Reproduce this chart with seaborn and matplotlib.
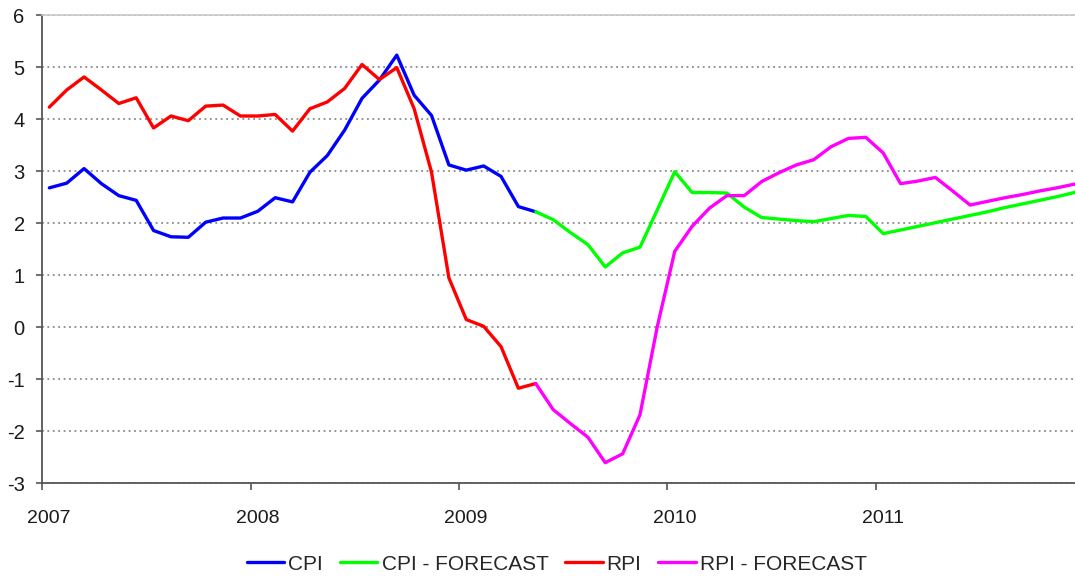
import numpy as np
import pandas as pd
import matplotlib
matplotlib.use("Agg")
import matplotlib.pyplot as plt
import matplotlib.transforms as mtransforms
import seaborn as sns

# ---- data (monthly, Jan 2007 .. Dec 2011) ----
months = list(range(60))
cpi = [2.68, 2.77, 3.05, 2.76, 2.53, 2.44, 1.86, 1.74, 1.73, 2.02, 2.10, 2.10,
       2.23, 2.49, 2.41, 2.98, 3.30, 3.79, 4.40, 4.75, 5.23, 4.46, 4.07, 3.12,
       3.02, 3.10, 2.90, 2.32, 2.22]
cpi_forecast = [2.22, 2.07, 1.82, 1.59, 1.16, 1.43, 1.54, 2.26, 2.99, 2.59, 2.59, 2.58,
                2.31, 2.11, 2.08, 2.05, 2.03, 2.09, 2.15, 2.13, 1.80, 1.87, 1.94, 2.01,
                2.08, 2.15, 2.22, 2.30, 2.37, 2.44, 2.51, 2.59]
rpi = [4.23, 4.56, 4.81, 4.56, 4.30, 4.41, 3.83, 4.06, 3.97, 4.25, 4.27, 4.06,
       4.06, 4.09, 3.77, 4.20, 4.33, 4.59, 5.05, 4.76, 4.99, 4.20, 2.98, 0.95,
       0.15, 0.02, -0.37, -1.17, -1.08]
rpi_forecast = [-1.08, -1.58, -1.85, -2.11, -2.60, -2.43, -1.68, 0.02, 1.46, 1.94, 2.29, 2.53,
                2.53, 2.80, 2.97, 3.12, 3.22, 3.47, 3.63, 3.65, 3.35, 2.76, 2.81, 2.88,
                2.62, 2.35, 2.42, 2.49, 2.55, 2.62, 2.68, 2.75]
series_names = ["CPI", "CPI - FORECAST", "RPI", "RPI - FORECAST"]
series_colors = ["#0000FF", "#00FF00", "#FF0000", "#FF00FF"]
year_ticks = [2007, 2008, 2009, 2010, 2011]
y_ticks = list(range(-3, 7))

# ---- build long table ----
def month_x(i):
    return 2007 + (i + 0.42) / 12.0

rows = []
for name, vals, start in [("CPI", cpi, 0), ("CPI - FORECAST", cpi_forecast, 28),
                          ("RPI", rpi, 0), ("RPI - FORECAST", rpi_forecast, 28)]:
    for k, v in enumerate(vals):
        rows.append({"x": month_x(months[start + k]), "value": v, "series": name})
df = pd.DataFrame(rows)

sns.set_style("white")
plt.rcParams["font.family"] = ["Liberation Sans", "DejaVu Sans"]
plt.rcParams["axes.unicode_minus"] = False

fig = plt.figure(figsize=(10.75, 5.78), dpi=100)
ax = fig.add_axes([0.0391, 0.1635, 0.9609, 0.8105])

sns.lineplot(data=df, x="x", y="value", hue="series", hue_order=series_names,
             palette=dict(zip(series_names, series_colors)), estimator=None,
             sort=True, linewidth=2.4, ax=ax, legend=True)

h, l = ax.get_legend_handles_labels()
if ax.get_legend() is not None:
    ax.get_legend().remove()

ax.set_xlim(2007, 2011.955)
ax.set_ylim(-3, 6)
ax.set_xticks(year_ticks)
ax.set_xticklabels([str(y) for y in year_ticks])
ax.set_yticks(y_ticks)
ax.set_yticklabels([str(v) for v in y_ticks])
ax.set_xlabel("")
ax.set_ylabel("")

ax.yaxis.grid(True, linestyle=(0, (1, 2)), color="#8a8a8a", linewidth=1.3)
ax.xaxis.grid(False)
ax.set_axisbelow(True)

for side in ["left", "bottom"]:
    ax.spines[side].set_visible(True)
    ax.spines[side].set_color("#555555")
    ax.spines[side].set_linewidth(1.3)
ax.spines["top"].set_visible(True)
ax.spines["top"].set_color("#c8c8c8")
ax.spines["top"].set_linewidth(1.2)
ax.spines["right"].set_visible(False)

ax.tick_params(axis="x", direction="out", length=5, width=1.2, color="#555555",
               pad=14, labelsize=14, labelcolor="#1a1a1a", bottom=True)
ax.tick_params(axis="y", direction="out", length=4.5, width=1.2, color="#555555",
               pad=8, labelsize=14.5, labelcolor="#1a1a1a", left=True)

offset = mtransforms.ScaledTranslation(7 / 100.0, 0, fig.dpi_scale_trans)
for lab in ax.get_xticklabels():
    lab.set_transform(lab.get_transform() + offset)

fig.legend(h, l, loc="center", bbox_to_anchor=(0.518, 0.024), ncol=4, frameon=False,
           fontsize=15, handlelength=1.8, handletextpad=0.2, columnspacing=0.8)

fig.savefig("out.png", dpi=100)
